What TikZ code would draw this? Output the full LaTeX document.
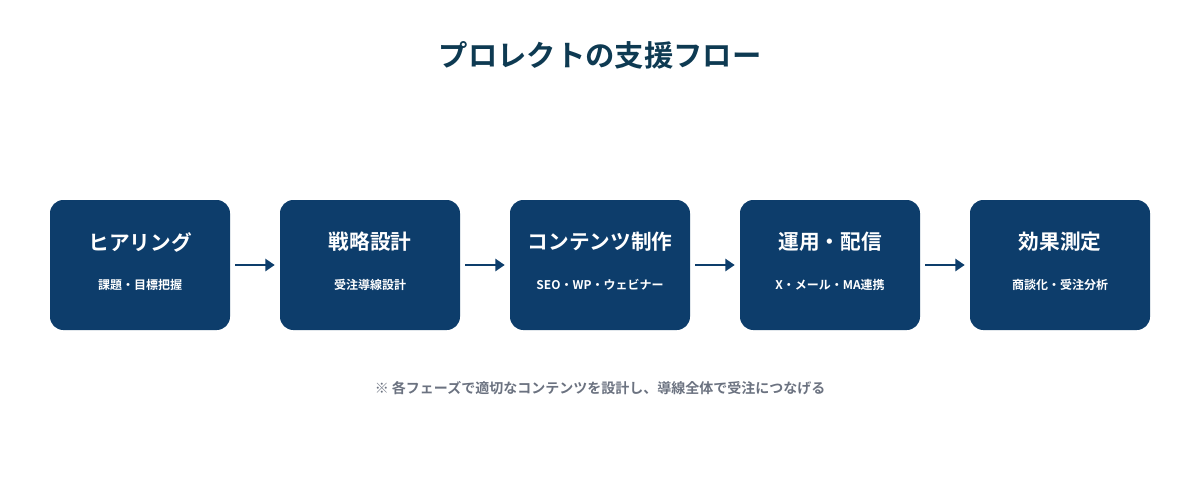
\documentclass[tikz,border=0pt]{standalone}
\usepackage{fontspec}
\setmainfont{Noto Sans CJK JP}[BoldFont={* Bold}]
\usetikzlibrary{arrows.meta}
\definecolor{box}{HTML}{0D3D6B}
\definecolor{ttl}{HTML}{0E3A52}
\definecolor{note}{HTML}{6B7280}
\begin{document}
\begin{tikzpicture}[x=0.75pt,y=-0.75pt,
  phase/.style={fill=box,rounded corners=10pt,minimum width=135pt,minimum height=97.5pt,inner sep=0pt},
  hd/.style={text=white,font=\bfseries\fontsize{15.5}{18}\selectfont},
  sub/.style={text=white,font=\bfseries\fontsize{9}{11}\selectfont},
  arr/.style={box,line width=2.2pt,-{Triangle[length=7pt,width=9pt]}}]
\useasboundingbox (0,0) rectangle (1200,480);
\node[text=ttl,font=\bfseries\fontsize{22}{26}\selectfont] (title) at (600,55) {プロレクトの支援フロー};
\foreach \i/\x/\h/\s in {1/140/ヒアリング/課題・目標把握,2/370/戦略設計/受注導線設計,3/600/コンテンツ制作/SEO・WP・ウェビナー,4/830/運用・配信/X・メール・MA連携,5/1060/効果測定/商談化・受注分析}{
  \node[phase] (b\i) at (\x,265) {};
  \node[hd] (h\i) at (\x,242) {\h};
  \node[sub] (s\i) at (\x,285) {\s};
}
\foreach \a/\b in {1/2,2/3,3/4,4/5}{
  \draw[arr] ([xshift=3.75pt]b\a.east) -- ([xshift=-3.75pt]b\b.west);
}
\node[text=note,font=\bfseries\fontsize{10.5}{12}\selectfont] (n) at (600,388) {※ 各フェーズで適切なコンテンツを設計し、導線全体で受注につなげる};
\end{tikzpicture}
\end{document}
